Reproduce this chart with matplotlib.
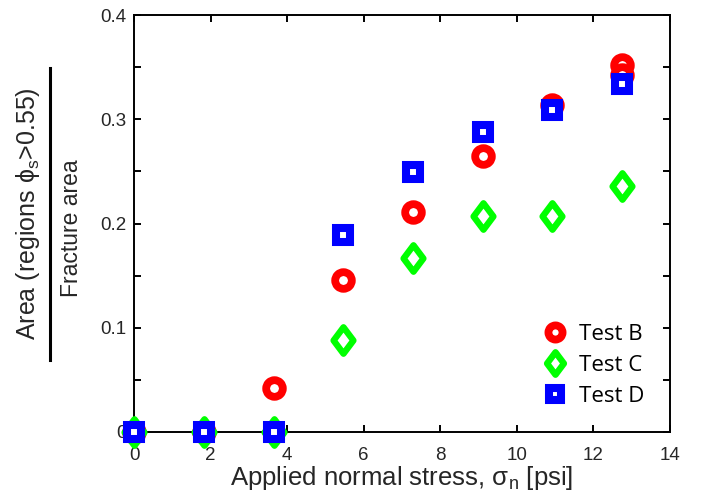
import numpy as np
import matplotlib.pyplot as plt
from matplotlib.lines import Line2D
from matplotlib.markers import MarkerStyle
from matplotlib.path import Path

# Applied normal stress [psi]
stress = [0, 1.82, 3.645, 5.47, 7.29, 9.11, 10.93, 12.75]
stress_b = stress + [12.75]

# Area fraction of regions with phi_s > 0.55
test_b = [0, 0, 0.042, 0.146, 0.211, 0.265, 0.314, 0.352, 0.342]
test_c = [0, 0, 0, 0.088, 0.167, 0.207, 0.207, 0.236]
test_d = [0, 0, 0, 0.189, 0.249, 0.288, 0.309, 0.334]

x_ticks = [0, 2, 4, 6, 8, 10, 12, 14]
y_ticks = [0, 0.05, 0.1, 0.15, 0.2, 0.25, 0.3, 0.35, 0.4]
y_labels = ['0', '', '0.1', '', '0.2', '', '0.3', '', '0.4']

txt = '#262626'
plt.rcParams['font.family'] = ['Liberation Sans', 'DejaVu Sans']
plt.rcParams['mathtext.fontset'] = 'custom'
plt.rcParams['mathtext.rm'] = 'Liberation Sans'
plt.rcParams['mathtext.it'] = 'Liberation Sans:italic'

# MATLAB-like diamond (wider than matplotlib's thin diamond), closed polygon
dpath = Path([(0, -1), (0.75, 0), (0, 1), (-0.75, 0), (0, -1)],
             [Path.MOVETO, Path.LINETO, Path.LINETO, Path.LINETO, Path.CLOSEPOLY])
diamond = MarkerStyle(dpath, joinstyle='miter')

fig = plt.figure(figsize=(7.12, 5.04), dpi=100)
ax = fig.add_axes([134 / 712, 72 / 504, 536 / 712, 417 / 504])

ax.plot(stress_b, test_b, linestyle='none', marker='o', ms=12, mew=5.6,
        mfc='white', mec=(1, 0, 0), label='Test B', clip_on=False, zorder=3)
ax.plot(stress, test_c, linestyle='none', marker=diamond, ms=19, mew=4.6,
        mfc='white', mec=(0, 1, 0), label='Test C', clip_on=False, zorder=3)
ax.plot(stress, test_d, linestyle='none', marker='s', ms=9.4, mew=5.8,
        mfc='white', mec=(0, 0, 1), label='Test D', clip_on=False, zorder=3)

ax.set_xlim(0, 14)
ax.set_ylim(0, 0.4)
ax.set_xticks(x_ticks)
ax.set_yticks(y_ticks)
ax.set_yticklabels(y_labels)
ax.tick_params(direction='in', length=5, width=1.4, top=True, right=True,
               labelsize=13.5, colors='black', labelcolor=txt)
ax.tick_params(axis='x', pad=11)
ax.tick_params(axis='y', pad=5.5)
for s in ax.spines.values():
    s.set_linewidth(1.4)

ax.set_xlabel('Applied normal stress, σ$_\\mathrm{n}$ [psi]',
              fontsize=18.5, color=txt, labelpad=0)

# fractional y label
fig.text(28 / 712, 1 - 214 / 504, 'Area (regions ϕ$_\\mathrm{s}$>0.55)',
         rotation=90, ha='center', va='center', fontsize=18, color=txt)
fig.add_artist(Line2D([50 / 712, 50 / 712], [1 - 68 / 504, 1 - 360 / 504],
                      color='black', lw=2.2, transform=fig.transFigure))
fig.text(71 / 712, 1 - 228 / 504, 'Fracture area',
         rotation=90, ha='center', va='center', fontsize=16.5, color=txt)

leg = ax.legend(loc='lower right', bbox_to_anchor=(0.99, 0.012), frameon=False,
                handletextpad=0.5, labelspacing=0.45, handlelength=1.2,
                markerscale=0.85, prop={'family': 'Open Sans', 'size': 16})
for t in leg.get_texts():
    t.set_color('black')

fig.savefig('out.png', dpi=100)
